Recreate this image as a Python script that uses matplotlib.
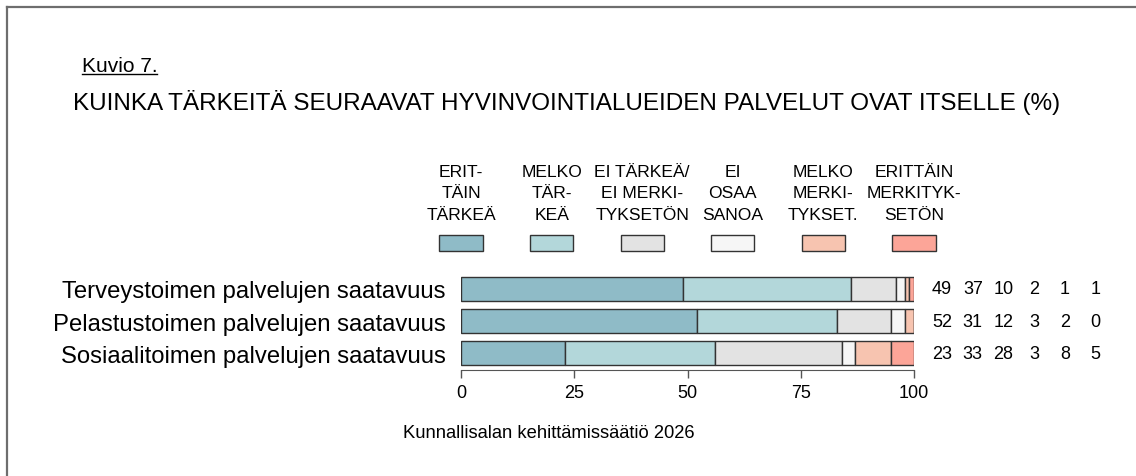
import matplotlib.pyplot as plt
from matplotlib.lines import Line2D
from matplotlib.patches import Rectangle
import matplotlib.transforms as mtransforms

plt.rcParams["font.family"] = ["Liberation Sans", "DejaVu Sans"]

# data (%)
categories = [
    "Terveystoimen palvelujen saatavuus",
    "Pelastustoimen palvelujen saatavuus",
    "Sosiaalitoimen palvelujen saatavuus",
]
answer_labels = [
    "ERIT-\nTÄIN\nTÄRKEÄ",
    "MELKO\nTÄR-\nKEÄ",
    "EI TÄRKEÄ/\nEI MERKI-\nTYKSETÖN",
    "EI\nOSAA\nSANOA",
    "MELKO\nMERKI-\nTYKSET.",
    "ERITTÄIN\nMERKITYK-\nSETÖN",
]
erittain_tarkea = [49, 52, 23]
melko_tarkea = [37, 31, 33]
ei_tarkea = [10, 12, 28]
ei_osaa_sanoa = [2, 3, 3]
melko_merkitykseton = [1, 2, 8]
erittain_merkitykseton = [1, 0, 5]
series = [erittain_tarkea, melko_tarkea, ei_tarkea,
          ei_osaa_sanoa, melko_merkitykseton, erittain_merkitykseton]
colors = ["#8fbbc7", "#b3d7da", "#e3e3e3", "#f6f6f6", "#f7c4b0", "#fca598"]
x_ticks = [0, 25, 50, 75, 100]

W, H = 1136, 477
fig = plt.figure(figsize=(W / 100, H / 100), dpi=100)


def fx(px):
    return px / W


def fy(py):
    return 1 - py / H


ax = fig.add_axes([fx(461), fy(371), fx(914) - fx(461), fy(274) - fy(371)])
ax.set_xlim(0, 100)
ax.set_ylim(2.526, -0.495)

rows = list(range(len(categories)))
left = [0] * len(categories)
for vals, col in zip(series, colors):
    ax.barh(rows, vals, left=left, height=0.76, color=col,
            edgecolor="#333333", linewidth=1.0)
    left = [l + v for l, v in zip(left, vals)]

# category labels
ax.set_yticks(rows)
ax.set_yticklabels(categories, fontsize=17.2)
ax.tick_params(axis="y", length=0, pad=11)

# x axis, R style
for s in ["top", "right", "left"]:
    ax.spines[s].set_visible(False)
ax.spines["bottom"].set_bounds(0, 100)
ax.spines["bottom"].set_color("#555555")
ax.set_xticks(x_ticks)
ax.set_xticklabels([str(t) for t in x_ticks], fontsize=13)
ax.tick_params(axis="x", length=6, width=1, color="#555555", pad=4)

# values next to the bars
num_x0, num_step = 106.2, 6.78
for r in rows:
    for i, vals in enumerate(series):
        ax.text(num_x0 + i * num_step, r, str(vals[r]), ha="center",
                va="center", fontsize=13, clip_on=False)

# legend above the bars
blend = mtransforms.blended_transform_factory(ax.transData, fig.transFigure)
leg_x = [0, 20, 40, 60, 80, 100]
box_w = 9.5
for xc, lab, col in zip(leg_x, answer_labels, colors):
    ax.add_patch(Rectangle((xc - box_w / 2, fy(252)), box_w, fy(236) - fy(252),
                           transform=blend, facecolor=col, edgecolor="#333333",
                           linewidth=1.0, clip_on=False))
    ax.text(xc, fy(194), lab, transform=blend, ha="center", va="center",
            fontsize=12.6, linespacing=1.55)

# titles
kuvio = fig.text(fx(81.5), fy(71.5), "Kuvio 7.", fontsize=15, ha="left",
                 va="baseline")
fig.text(fx(73), fy(110), "KUINKA TÄRKEITÄ SEURAAVAT HYVINVOINTIALUEIDEN "
         "PALVELUT OVAT ITSELLE (%)", fontsize=17.5, ha="left", va="baseline")
fig.text(fx(549), fy(438), "Kunnallisalan kehittämissäätiö 2026",
         fontsize=13.2, ha="center", va="baseline")

# underline under "Kuvio 7."
fig.canvas.draw()
bb = kuvio.get_window_extent().transformed(fig.transFigure.inverted())
fig.add_artist(Line2D([bb.x0, bb.x1], [fy(75), fy(75)], color="black",
                      linewidth=1.0))

# frame (left and top edges visible)
fig.add_artist(Line2D([fx(7), fx(7)], [fy(8), 0], color="#6e6e6e", linewidth=1.6))
fig.add_artist(Line2D([fx(7), 1], [fy(8), fy(8)], color="#6e6e6e", linewidth=1.6))

fig.savefig("out.png", dpi=100)
